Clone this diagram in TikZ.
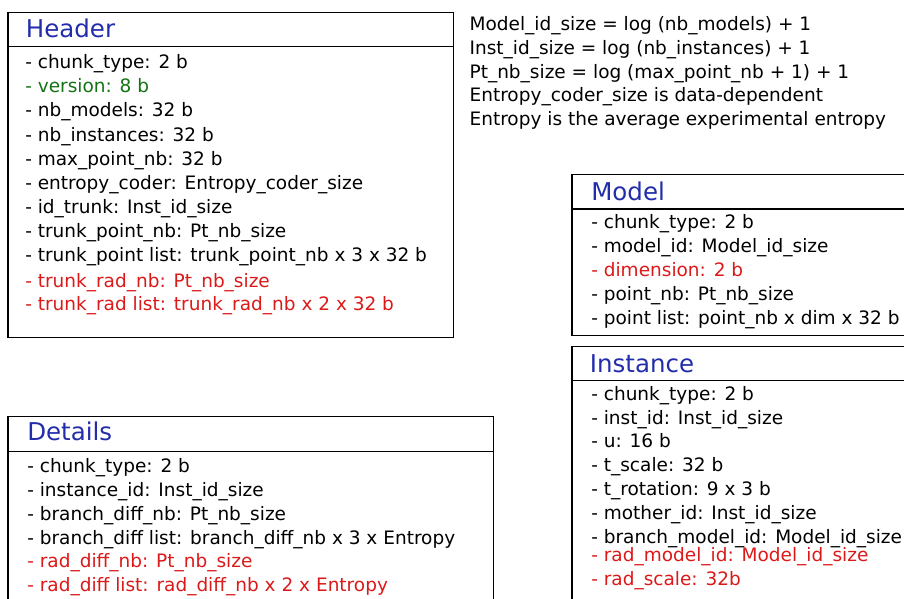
\documentclass[tikz,border=0pt]{standalone}
\usepackage{fontspec}
\setmainfont{DejaVu Sans}
\definecolor{titleblue}{RGB}{35,45,170}
\definecolor{fieldred}{RGB}{220,25,25}
\definecolor{fieldgreen}{RGB}{20,115,20}
\begin{document}
\begin{tikzpicture}[x=1pt,y=-1pt,line width=1.2pt,
   boxtitle/.style={anchor=base west,inner sep=0pt,text=titleblue,font=\fontsize{24.5}{28}\selectfont},
   field/.style={anchor=base west,inner sep=0pt,font=\fontsize{18.5}{22}\selectfont}]
   \clip (0,0) rectangle (904,599);

   % Header
   \draw (8,12.7) rectangle (453.3,337.7);
   \draw (8,46.7) -- (453.3,46.7);
   \node[boxtitle] (hdrtitle) at (25.3,37.7) {Header};
   \foreach \y/\txt/\col [count=\i] in {
      69/{- chunk\_type: 2 b}/black,
      93/{- version: 8 b}/fieldgreen,
      117/{- nb\_models: 32 b}/black,
      141/{- nb\_instances: 32 b}/black,
      165/{- max\_point\_nb: 32 b}/black,
      189/{- entropy\_coder: Entropy\_coder\_size}/black,
      213/{- id\_trunk: Inst\_id\_size}/black,
      237/{- trunk\_point\_nb: Pt\_nb\_size}/black,
      261/{- trunk\_point list: trunk\_point\_nb x 3 x 32 b}/black,
      287/{- trunk\_rad\_nb: Pt\_nb\_size}/fieldred,
      310/{- trunk\_rad list: trunk\_rad\_nb x 2 x 32 b}/fieldred}
      \node[field,text=\col] (hdr\i) at (24.7,\y) {\txt};

   % sizes
   \foreach \y/\txt [count=\i] in {
      31/{Model\_id\_size = log (nb\_models) + 1},
      54.6/{Inst\_id\_size = log (nb\_instances) + 1},
      78.2/{Pt\_nb\_size = log (max\_point\_nb + 1) + 1},
      101.8/{Entropy\_coder\_size is data-dependent},
      125.4/{Entropy is the average experimental entropy}}
      \node[field] (note\i) at (469,\y) {\txt};

   % Model
   \draw (572,174.7) rectangle (910,335.7);
   \draw (572,209) -- (910,209);
   \node[boxtitle] (mdltitle) at (590.7,200.7) {Model};
   \foreach \y/\txt/\col [count=\i] in {
      228/{- chunk\_type: 2 b}/black,
      252/{- model\_id: Model\_id\_size}/black,
      276/{- dimension: 2 b}/fieldred,
      300/{- point\_nb: Pt\_nb\_size}/black,
      324/{- point list: point\_nb x dim x 32 b}/black}
      \node[field,text=\col] (mdl\i) at (590.7,\y) {\txt};

   % Instance
   \draw (572,610) -- (572,346.7) -- (910,346.7);
   \draw (572,380.7) -- (910,380.7);
   \node[boxtitle] (insttitle) at (589.3,372.7) {Instance};
   \foreach \y/\txt/\col [count=\i] in {
      400/{- chunk\_type: 2 b}/black,
      424/{- inst\_id: Inst\_id\_size}/black,
      447/{- u: 16 b}/black,
      471/{- t\_scale: 32 b}/black,
      495/{- t\_rotation: 9 x 3 b}/black,
      519/{- mother\_id: Inst\_id\_size}/black,
      543/{- branch\_model\_id: Model\_id\_size}/black,
      561/{- rad\_model\_id: Model\_id\_size}/fieldred,
      585/{- rad\_scale: 32b}/fieldred}
      \node[field,text=\col] (inst\i) at (590.7,\y) {\txt};

   % Details
   \draw (8,610) -- (8,416.7) -- (493.3,416.7) -- (493.3,610);
   \draw (8,451.7) -- (493.3,451.7);
   \node[boxtitle] (dtltitle) at (26.7,440.7) {Details};
   \foreach \y/\txt/\col [count=\i] in {
      472.7/{- chunk\_type: 2 b}/black,
      496.7/{- instance\_id: Inst\_id\_size}/black,
      520/{- branch\_diff\_nb: Pt\_nb\_size}/black,
      544/{- branch\_diff list: branch\_diff\_nb x 3 x Entropy}/black,
      567.7/{- rad\_diff\_nb: Pt\_nb\_size}/fieldred,
      591.7/{- rad\_diff list: rad\_diff\_nb x 2 x Entropy}/fieldred}
      \node[field,text=\col] (dtl\i) at (26.7,\y) {\txt};

\end{tikzpicture}
\end{document}
